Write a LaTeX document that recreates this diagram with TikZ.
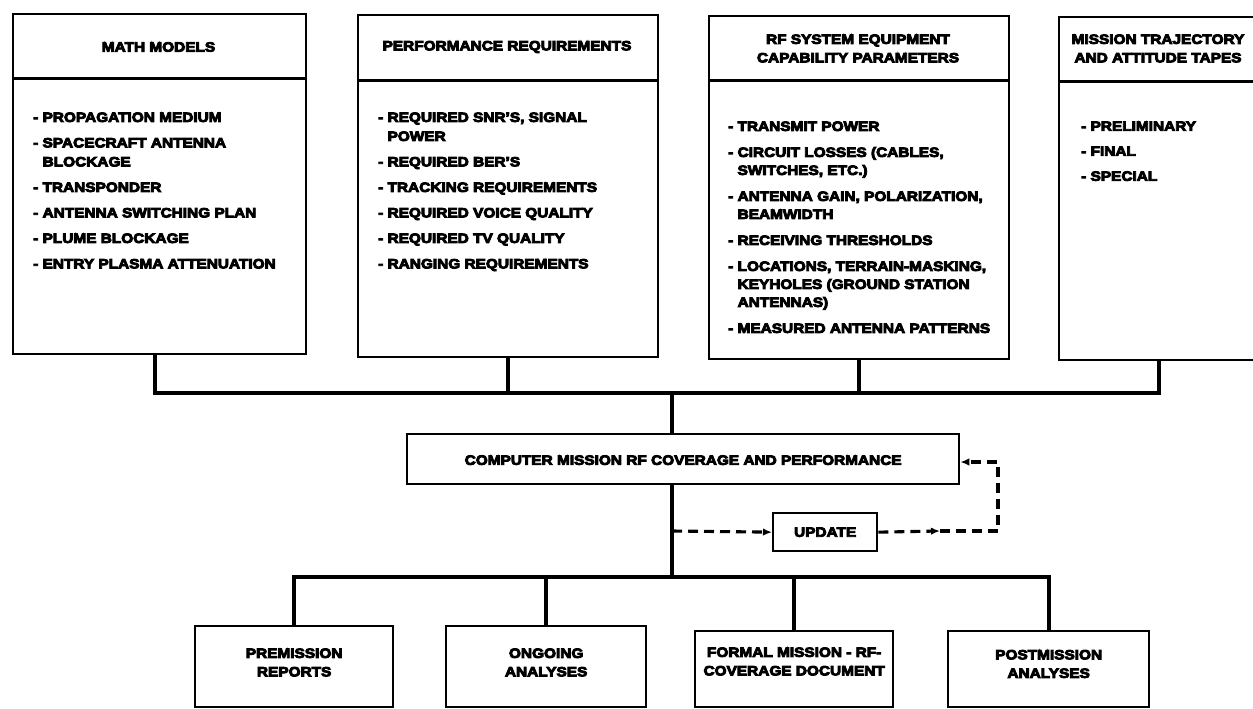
\documentclass[tikz,border=0pt]{standalone}
\usepackage{fontspec}
\setmainfont{Liberation Sans}[FakeStretch=1.14,
  BoldFont={Liberation Sans Bold}, BoldFeatures={FakeBold=6.5}]
\usetikzlibrary{arrows.meta}

\begin{document}
\begin{tikzpicture}[x=1pt,y=-1pt,
  box/.style={draw, line width=2.3pt, inner sep=0pt, anchor=north west},
  divider/.style={line width=3pt},
  conn/.style={line width=3.8pt},
  dashline/.style={line width=3.1pt, dash pattern=on 10pt off 6pt},
  arr/.style={-{Latex[length=9pt,width=7.5pt]}},
  lbl/.style={font=\bfseries\fontsize{13.5}{18.5}\selectfont, align=center, inner sep=0pt},
  itemlist/.style={font=\bfseries\fontsize{13.5}{19}\selectfont, align=left,
                   inner sep=0pt, anchor=north west},
]
\useasboundingbox (0,0) rectangle (1253,709);

% ---- input boxes (header + list) ----
\node[box, minimum width=293pt, minimum height=340pt] (mm) at (12,13) {};
\node[box, minimum width=300pt, minimum height=342pt] (pr) at (357,14) {};
\node[box, minimum width=300pt, minimum height=343pt] (rf) at (708,15) {};
\node[box, minimum width=200pt, minimum height=343pt] (mt) at (1058,16) {};

\draw[divider] ([yshift=-66pt]mm.north west) -- ([yshift=-66pt]mm.north east);
\draw[divider] ([yshift=-67pt]pr.north west) -- ([yshift=-67pt]pr.north east);
\draw[divider] ([yshift=-66pt]rf.north west) -- ([yshift=-66pt]rf.north east);
\draw[divider] ([yshift=-66pt]mt.north west) -- ([yshift=-66pt]mt.north east);

\node[lbl] (mmT) at (158.5,47) {MATH MODELS};
\node[lbl] (prT) at (507,47) {PERFORMANCE REQUIREMENTS};
\node[lbl] (rfT) at (858,48.5) {RF SYSTEM EQUIPMENT\\CAPABILITY PARAMETERS};
\node[lbl] (mtT) at (1158,48.5) {MISSION TRAJECTORY\\AND ATTITUDE TAPES};

\node[itemlist] (mmL) at (33,112.3) {%
- PROPAGATION MEDIUM\\[6.5pt]
- SPACECRAFT ANTENNA\\
\hphantom{- }BLOCKAGE\\[6.5pt]
- TRANSPONDER\\[6.5pt]
- ANTENNA SWITCHING PLAN\\[6.5pt]
- PLUME BLOCKAGE\\[6.5pt]
- ENTRY PLASMA ATTENUATION};

\node[itemlist] (prL) at (378,112.3) {%
- REQUIRED SNR'S, SIGNAL\\
\hphantom{- }POWER\\[6.5pt]
- REQUIRED BER'S\\[6.5pt]
- TRACKING REQUIREMENTS\\[6.5pt]
- REQUIRED VOICE QUALITY\\[6.5pt]
- REQUIRED TV QUALITY\\[6.5pt]
- RANGING REQUIREMENTS};

\node[itemlist, font=\bfseries\fontsize{13.5}{18}\selectfont] (rfL) at (728,121.3) {%
- TRANSMIT POWER\\[8pt]
- CIRCUIT LOSSES (CABLES,\\
\hphantom{- }SWITCHES, ETC.)\\[8pt]
- ANTENNA GAIN, POLARIZATION,\\
\hphantom{- }BEAMWIDTH\\[8pt]
- RECEIVING THRESHOLDS\\[8pt]
- LOCATIONS, TERRAIN-MASKING,\\
\hphantom{- }KEYHOLES (GROUND STATION\\
\hphantom{- }ANTENNAS)\\[8pt]
- MEASURED ANTENNA PATTERNS};

\node[itemlist] (mtL) at (1081,121.3) {%
- PRELIMINARY\\[6pt]
- FINAL\\[6pt]
- SPECIAL};

% ---- central process and update loop ----
\node[box, minimum width=552pt, minimum height=50pt] (comp) at (406,433) {};
\node[lbl] (compT) at ([yshift=-1pt]comp.center) {COMPUTER MISSION RF COVERAGE AND PERFORMANCE};
\node[box, minimum width=104pt, minimum height=38pt] (upd) at (772,512) {};
\node[lbl] (updT) at (upd.center) {UPDATE};

% ---- output boxes ----
\node[box, minimum width=198pt, minimum height=81pt] (pm) at (194,625) {};
\node[box, minimum width=200pt, minimum height=81pt] (og) at (445,625) {};
\node[box, minimum width=198pt, minimum height=76pt] (fm) at (694,630) {};
\node[box, minimum width=201pt, minimum height=76pt] (po) at (947,630) {};

\node[lbl] (pmT) at ([yshift=-37.5pt]pm.north) {PREMISSION\\REPORTS};
\node[lbl] (ogT) at ([yshift=-37.5pt]og.north) {ONGOING\\ANALYSES};
\node[lbl] (fmT) at ([yshift=-31.5pt]fm.north) {FORMAL MISSION - RF-\\COVERAGE DOCUMENT};
\node[lbl] (poT) at ([yshift=-34pt]po.north) {POSTMISSION\\ANALYSES};

% ---- connector buses ----
\coordinate (bus) at (0,393);
\coordinate (lbus) at (0,577);
\coordinate (hub) at (672,0);
\coordinate (mmdrop) at ([xshift=-5pt]mm.south);

\draw[conn] (mmdrop) -- (mmdrop |- bus) -- (mt.south |- bus) -- (mt.south);
\draw[conn] (pr.south) -- (pr.south |- bus);
\draw[conn] (rf.south) -- (rf.south |- bus);
\draw[conn] (hub |- bus) -- (hub |- comp.north);
\draw[conn] (hub |- comp.south) -- (hub |- lbus);

\draw[conn] (pm.north) -- (pm.north |- lbus) -- (po.north |- lbus) -- (po.north);
\draw[conn] (og.north) -- (og.north |- lbus);
\draw[conn] (fm.north) -- (fm.north |- lbus);

% ---- dashed update loop ----
\coordinate (dstart) at (672,531);
\coordinate (mid) at (940,531);
\coordinate (loopBR) at (998,531);
\coordinate (loopTR) at (998,462);
\draw[dashline, arr] (dstart) -- (upd.west);
\draw[dashline, arr] (upd.east) -- (mid);
\draw[dashline, arr] (mid) -- (loopBR) -- (loopTR) -- (comp.east |- loopTR);
\end{tikzpicture}
\end{document}
